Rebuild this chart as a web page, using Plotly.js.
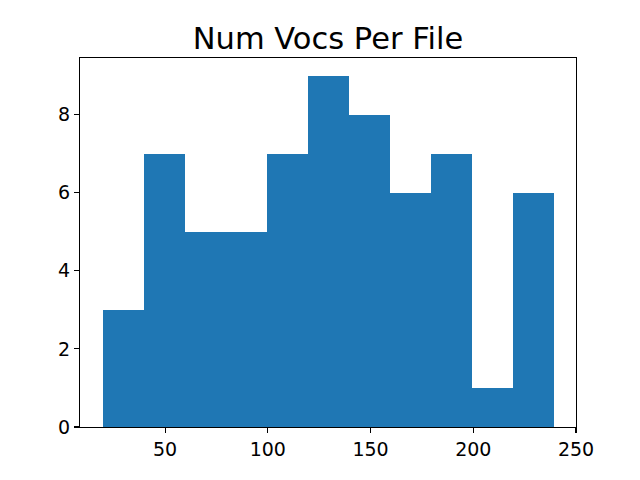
<!DOCTYPE html>
<html>
<head>
<meta charset="utf-8">
<script src="https://cdn.plot.ly/plotly-3.0.1.min.js"></script>
<style>html,body{margin:0;padding:0;background:#fff;}</style>
</head>
<body>
<div id="chart" style="width:640px;height:480px;"></div>
<script>
// Histogram bin edges and counts
const binEdges = [19.6, 39.55, 59.5, 79.45, 99.4, 119.35, 139.3, 159.25, 179.2, 199.15, 219.1, 239.05];
const counts = [3, 7, 5, 5, 7, 9, 8, 6, 7, 1, 6];
const xTicks = [50, 100, 150, 200, 250];
const yTicks = [0, 2, 4, 6, 8];

const centers = counts.map((_, i) => (binEdges[i] + binEdges[i + 1]) / 2);
const widths = counts.map((_, i) => binEdges[i + 1] - binEdges[i]);

const trace = {
  type: 'bar',
  x: centers,
  y: counts,
  width: widths,
  marker: {color: '#1f77b4', line: {width: 0}},
  hoverinfo: 'x+y'
};

const font = {family: 'DejaVu Sans, sans-serif', color: '#000'};

const layout = {
  width: 640, height: 480,
  margin: {l: 80, r: 64, t: 58, b: 53},
  paper_bgcolor: '#fff', plot_bgcolor: '#fff',
  showlegend: false,
  bargap: 0,
  title: {
    text: 'Num Vocs Per File',
    font: Object.assign({}, font, {size: 30.5}),
    x: 0.5, xref: 'paper', xanchor: 'center',
    y: 1, yref: 'paper', yanchor: 'bottom',
    pad: {b: 9}
  },
  xaxis: {
    range: [8.6, 250],
    tickvals: xTicks,
    ticktext: xTicks.map(String),
    ticks: 'outside', ticklen: 5, tickwidth: 1.1, tickcolor: '#000',
    showgrid: false, zeroline: false,
    showline: true, linecolor: '#000', linewidth: 1.1, mirror: true,
    tickfont: Object.assign({}, font, {size: 19})
  },
  yaxis: {
    range: [0, 9.45],
    tickvals: yTicks,
    ticktext: yTicks.map(String),
    ticks: 'outside', ticklen: 5, tickwidth: 1.1, tickcolor: '#000',
    showgrid: false, zeroline: false,
    showline: true, linecolor: '#000', linewidth: 1.1, mirror: true,
    tickfont: Object.assign({}, font, {size: 19})
  }
};

Plotly.newPlot('chart', [trace], layout, {displayModeBar: false, staticPlot: true});
</script>
</body>
</html>
